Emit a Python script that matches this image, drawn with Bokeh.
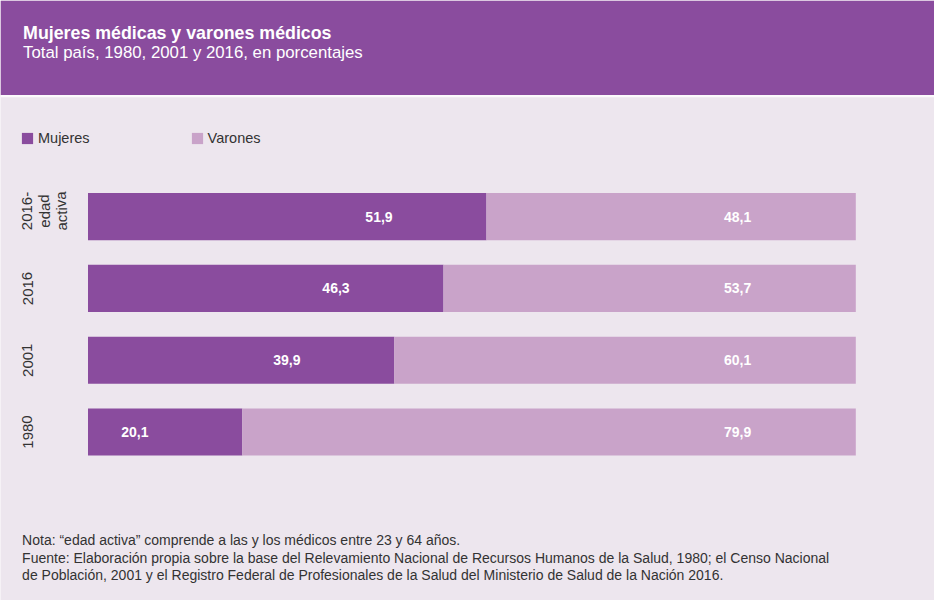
from bokeh.plotting import figure
from bokeh.models import (ColumnDataSource, Range1d, Label, BoxAnnotation,
                          Legend, LegendItem)
from bokeh.embed import file_html
from bokeh.resources import INLINE
from bokeh.core.properties import value

# ---- data ----
categorias = ["1980", "2001", "2016", "2016-edad activa"]
mujeres = [20.1, 39.9, 46.3, 51.9]
varones = [79.9, 60.1, 53.7, 48.1]
anios_etiqueta = ["1980", "2001", "2016"]
edad_activa_lineas = ["2016-", "edad", "activa"]

titulo = "Mujeres médicas y varones médicos"
subtitulo = "Total país, 1980, 2001 y 2016, en porcentajes"
notas = [
    "Nota: \u201cedad activa\u201d comprende a las y los médicos entre 23 y 64 años.",
    "Fuente: Elaboración propia sobre la base del Relevamiento Nacional de Recursos Humanos de la Salud, 1980; el Censo Nacional",
    "de Población, 2001 y el Registro Federal de Profesionales de la Salud del Ministerio de Salud de la Nación 2016.",
]

# ---- styles ----
BG = "#ede6ee"
DARK = "#8a4c9e"
LIGHT = "#c9a3c9"
TXT = "#333333"
FONT = "Liberation Sans"

W, H = 934, 600

idx = list(range(len(categorias)))
fmt = lambda v: f"{v:.1f}".replace(".", ",")
source = ColumnDataSource(dict(y=idx, mujeres=mujeres, varones=varones))

p = figure(width=W, height=H, output_backend="svg", toolbar_location=None,
           x_range=Range1d(-11.396, 110.25), y_range=Range1d(-2.348, 6.013),
           min_border=0, x_axis_location=None, y_axis_location=None,
           background_fill_color=BG, border_fill_color=BG,
           outline_line_color=None)
p.xgrid.visible = False
p.ygrid.visible = False

# header band
p.add_layout(BoxAnnotation(bottom=4.696, fill_color=DARK, fill_alpha=1.0,
                           line_color=None, level="underlay"))
p.add_layout(BoxAnnotation(top=4.696, bottom=4.664, fill_color="white",
                           fill_alpha=0.8, line_color=None, level="underlay"))

rs = p.hbar_stack(["mujeres", "varones"], y="y", height=0.658,
                  color=[DARK, LIGHT], line_color=None, source=source)

# value labels
lab_src = ColumnDataSource(dict(
    xm=[m - 14 for m in mujeres],
    xv=[84.6 for _ in varones],
    y=idx,
    tm=[fmt(m) for m in mujeres],
    tv=[fmt(v) for v in varones],
))
for xcol, tcol in (("xm", "tm"), ("xv", "tv")):
    p.text(x=xcol, y="y", text=tcol, source=lab_src, text_color="white",
           text_font=value(FONT), text_font_style="bold",
           text_font_size="14px", text_align="center",
           text_baseline="middle")

# category labels (rotated)
for i, a in enumerate(anios_etiqueta):
    p.add_layout(Label(x=27, y=i, x_units="screen", y_units="data", text=a,
                       angle=1.5708, text_align="center",
                       text_baseline="middle", text_font=FONT,
                       text_font_size="15px", text_color=TXT))
for k, line in enumerate(edad_activa_lineas):
    p.add_layout(Label(x=26.5 + 17 * k, y=3.08, x_units="screen",
                       y_units="data", text=line, angle=1.5708,
                       text_align="center", text_baseline="middle",
                       text_font=FONT, text_font_size="15px",
                       text_color=TXT))

# titles
p.add_layout(Label(x=22.6, y=H - 32.4, x_units="screen", y_units="screen",
                   text=titulo, text_font=FONT, text_font_style="bold",
                   text_font_size="17.8px", text_color="white",
                   text_baseline="alphabetic"))
p.add_layout(Label(x=22.6, y=H - 51.9, x_units="screen", y_units="screen",
                   text=subtitulo, text_font=FONT, text_font_size="16.8px",
                   text_color="white", text_baseline="alphabetic"))

# notes
for k, n in enumerate(notas):
    p.add_layout(Label(x=21.6, y=H - 539.6 - 17.5 * k, x_units="screen",
                       y_units="screen", text=n, text_font=FONT,
                       text_font_size="14px", text_color=TXT,
                       text_baseline="alphabetic"))

# legend
legend = Legend(items=[LegendItem(label="Mujeres", renderers=[rs[0]]),
                       LegendItem(label="Varones", renderers=[rs[1]])],
                orientation="horizontal", location=(20, 454),
                glyph_width=14, glyph_height=14, label_height=14,
                label_standoff=4, spacing=100, padding=0, margin=0,
                border_line_color=None, background_fill_alpha=0,
                label_text_font=FONT, label_text_font_size="14.5px",
                label_text_color=TXT)
p.add_layout(legend)

open("out.html", "w").write(file_html(p, INLINE))
